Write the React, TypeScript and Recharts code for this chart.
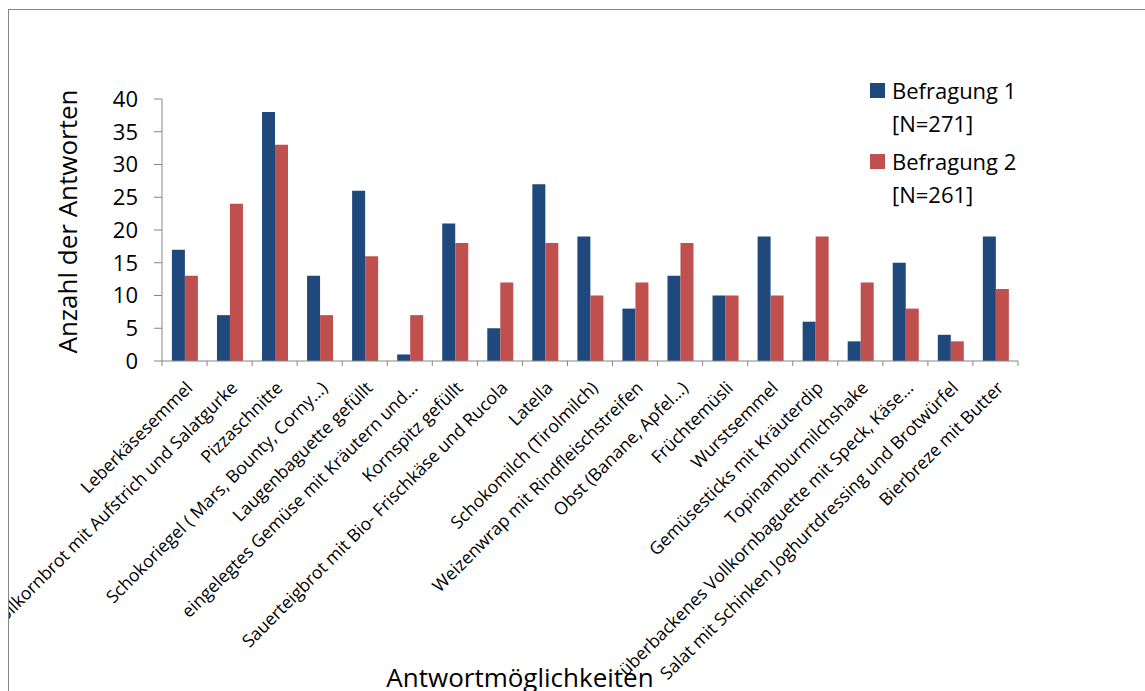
import React from 'react';
import { BarChart, Bar, XAxis, YAxis, Legend, Customized } from 'recharts';

const categories = [
  'Leberkäsesemmel',
  'Vollkornbrot mit Aufstrich und Salatgurke',
  'Pizzaschnitte',
  'Schokoriegel ( Mars, Bounty, Corny…)',
  'Laugenbaguette gefüllt',
  'eingelegtes Gemüse mit Kräutern und…',
  'Kornspitz gefüllt',
  'Sauerteigbrot mit Bio- Frischkäse und Rucola',
  'Latella',
  'Schokomilch (Tirolmilch)',
  'Weizenwrap mit Rindfleischstreifen',
  'Obst (Banane, Apfel…)',
  'Früchtemüsli',
  'Wurstsemmel',
  'Gemüsesticks mit Kräuterdip',
  'Topinamburmilchshake',
  'überbackenes Vollkornbaguette mit Speck, Käse…',
  'Salat mit Schinken Joghurtdressing und Brotwürfel',
  'Bierbreze mit Butter',
];

const befragung1 = [17, 7, 38, 13, 26, 1, 21, 5, 27, 19, 8, 13, 10, 19, 6, 3, 15, 4, 19];
const befragung2 = [13, 24, 33, 7, 16, 7, 18, 12, 18, 10, 12, 18, 10, 10, 19, 12, 8, 3, 11];

const yTicks = [0, 5, 10, 15, 20, 25, 30, 35, 40];

const series = [
  { key: 'b1', name: 'Befragung 1', sub: '[N=271]', color: '#1F497D' },
  { key: 'b2', name: 'Befragung 2', sub: '[N=261]', color: '#C0504D' },
];

const data = categories.map((c, i) => ({ name: c, b1: befragung1[i], b2: befragung2[i] }));

const FONT = '"Open Sans", sans-serif';
const AXIS_COLOR = '#868686';

const CategoryTick = (props: any) => {
  const { x, y, payload, index } = props;
  const half = payload && payload.offset ? payload.offset : 22.5;
  const axisY = y - 7;
  return (
    <g>
      <line x1={x - half} x2={x - half} y1={axisY} y2={axisY + 5} stroke={AXIS_COLOR} strokeWidth={1} />
      {index === categories.length - 1 && (
        <line x1={x + half} x2={x + half} y1={axisY} y2={axisY + 5} stroke={AXIS_COLOR} strokeWidth={1} />
      )}
      <text
        transform={`translate(${x + 9},${y + 21}) rotate(-45)`}
        textAnchor="end"
        fontSize={17.6}
        fontFamily={FONT}
        fill="#000"
      >
        {payload.value}
      </text>
    </g>
  );
};

const LegendContent = () => (
  <div style={{ fontFamily: FONT, fontSize: 22, lineHeight: '33px', color: '#000' }}>
    {series.map((s, i) => (
      <div key={s.key} style={{ position: 'relative', paddingLeft: 22, marginBottom: i === 0 ? 5 : 0 }}>
        <div style={{ position: 'absolute', left: 0, top: 9, width: 15, height: 15, background: s.color }} />
        <div style={{ whiteSpace: 'nowrap' }}>{s.name}</div>
        <div style={{ whiteSpace: 'nowrap' }}>{s.sub}</div>
      </div>
    ))}
  </div>
);

const Titles = () => (
  <g fontFamily={FONT} fill="#000">
    <text transform="translate(68,211.5) rotate(-90)" textAnchor="middle" fontSize={26}>
      Anzahl der Antworten
    </text>
    <text x={511} y={676.5} textAnchor="middle" fontSize={26}>
      Antwortmöglichkeiten
    </text>
  </g>
);

export default function App() {
  return (
    <>
      <style>{'body{overflow:hidden;}'}</style>
      <div
        style={{
          position: 'absolute',
          left: 8,
          top: 9,
          width: 1137,
          height: 682,
          borderLeft: `1px solid ${AXIS_COLOR}`,
          borderTop: `1px solid ${AXIS_COLOR}`,
          background: '#fff',
        }}
      >
        <BarChart
          width={1136}
          height={681}
          data={data}
          margin={{ top: 89, right: 127, bottom: 0, left: 0 }}
          barCategoryGap="22%"
          barGap={0}
          style={{ fontFamily: FONT }}
        >
          <XAxis
            dataKey="name"
            interval={0}
            height={330}
            tickSize={5}
            tickMargin={2}
            tickLine={false}
            axisLine={{ stroke: AXIS_COLOR }}
            tick={<CategoryTick />}
          />
          <YAxis
            width={153}
            domain={[0, 40]}
            ticks={yTicks}
            interval={0}
            tickSize={8}
            tickMargin={16}
            axisLine={{ stroke: AXIS_COLOR }}
            tickLine={{ stroke: AXIS_COLOR }}
            tick={{ fill: '#000', fontSize: 22, fontFamily: FONT }}
          />
          <Legend
            layout="vertical"
            align="center"
            verticalAlign="middle"
            content={<LegendContent />}
            wrapperStyle={{ left: 861, top: 64, width: 220, height: 140 }}
          />
          {series.map((s) => (
            <Bar key={s.key} dataKey={s.key} name={s.name} fill={s.color} isAnimationActive={false} />
          ))}
          <Customized component={Titles} />
        </BarChart>
      </div>
    </>
  );
}
